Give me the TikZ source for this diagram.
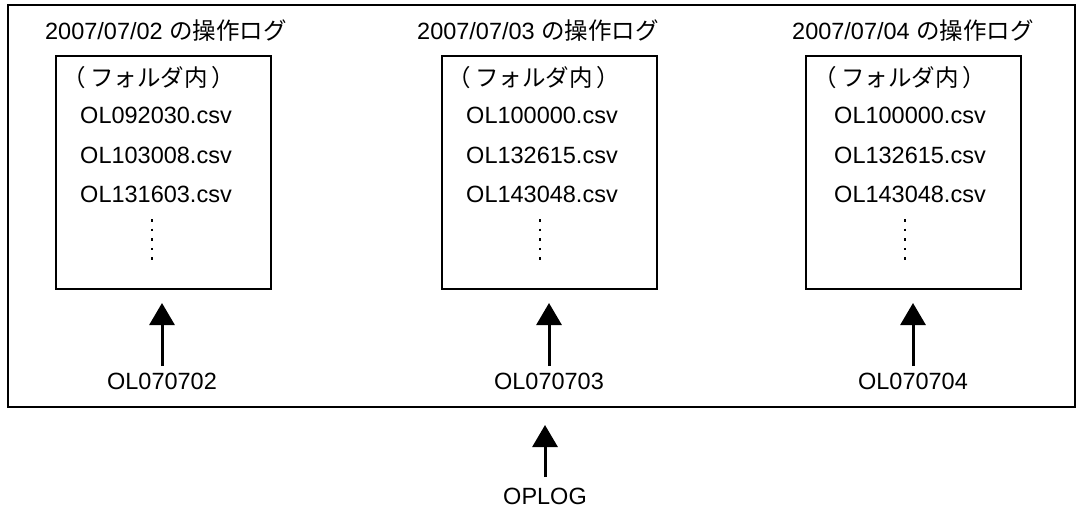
\documentclass[tikz,border=0pt]{standalone}
\usepackage{fontspec}
\setmainfont{Liberation Sans}
\newfontfamily\jp{Noto Sans CJK JP}
\usetikzlibrary{arrows.meta}
\newcommand{\infolder}{{\jp （\kern4ptフォルダ内\kern4pt）}}
\begin{document}
\begin{tikzpicture}[x=1pt,y=-1pt,
  txt/.style={font=\fontsize{23.5}{28}\selectfont, inner sep=1pt, anchor=center},
  filebox/.style={draw, line width=2pt, minimum width=215pt, minimum height=233pt, inner sep=0pt},
  outerbox/.style={draw, line width=2pt, minimum width=1067pt, minimum height=402pt, inner sep=0pt},
  arr/.style={line width=3pt, -{Triangle[width=25pt,length=22pt]}},
  dots/.style={line width=2.6pt, dash pattern=on 2.6pt off 7pt}
]
\useasboundingbox (0,0) rectangle (1083,512);
\node[outerbox] (outer) at (541.5,206) {};
% boxes
\node[filebox] (b1) at (163.5,172.5) {};
\node[filebox] (b2) at (549,172.5) {};
\node[filebox] (b3) at (913.5,172.5) {};
% titles
\node[txt] (t1) at (166,31) {2007/07/02 {\jp の操作ログ}};
\node[txt] (t2) at (538,31) {2007/07/03 {\jp の操作ログ}};
\node[txt] (t3) at (913,31) {2007/07/04 {\jp の操作ログ}};
% folder contents
\node[txt] (f1) at (149,78) {\infolder};
\node[txt] (f2) at (534,78) {\infolder};
\node[txt] (f3) at (900,78) {\infolder};
\node[txt] (a1) at (156,115) {OL092030.csv};
\node[txt] (a2) at (156,155) {OL103008.csv};
\node[txt] (a3) at (156,194) {OL131603.csv};
\node[txt] (c1) at (542,115) {OL100000.csv};
\node[txt] (c2) at (542,155) {OL132615.csv};
\node[txt] (c3) at (542,194) {OL143048.csv};
\node[txt] (d1) at (910,115) {OL100000.csv};
\node[txt] (d2) at (910,155) {OL132615.csv};
\node[txt] (d3) at (910,194) {OL143048.csv};
\coordinate (v1a) at (152,219); \coordinate (v1b) at (152,264);
\coordinate (v2a) at (540,219); \coordinate (v2b) at (540,264);
\coordinate (v3a) at (905,219); \coordinate (v3b) at (905,264);
\draw[dots] (v1a) -- (v1b);
\draw[dots] (v2a) -- (v2b);
\draw[dots] (v3a) -- (v3b);
% labels
\node[txt] (l1) at (162,381) {OL070702};
\node[txt] (l2) at (549,381) {OL070703};
\node[txt] (l3) at (913,381) {OL070704};
\node[txt] (op) at (545,496) {OPLOG};
\coordinate (s1) at (162,366);
\coordinate (s2) at (549,366);
\coordinate (s3) at (913,366);
\coordinate (s4) at (545,477);
\draw[arr, shorten >=13pt] (s1) -- (s1 |- b1.south);
\draw[arr, shorten >=13pt] (s2) -- (s2 |- b2.south);
\draw[arr, shorten >=13pt] (s3) -- (s3 |- b3.south);
\draw[arr, shorten >=17pt] (s4) -- (s4 |- outer.south);
\end{tikzpicture}
\end{document}
